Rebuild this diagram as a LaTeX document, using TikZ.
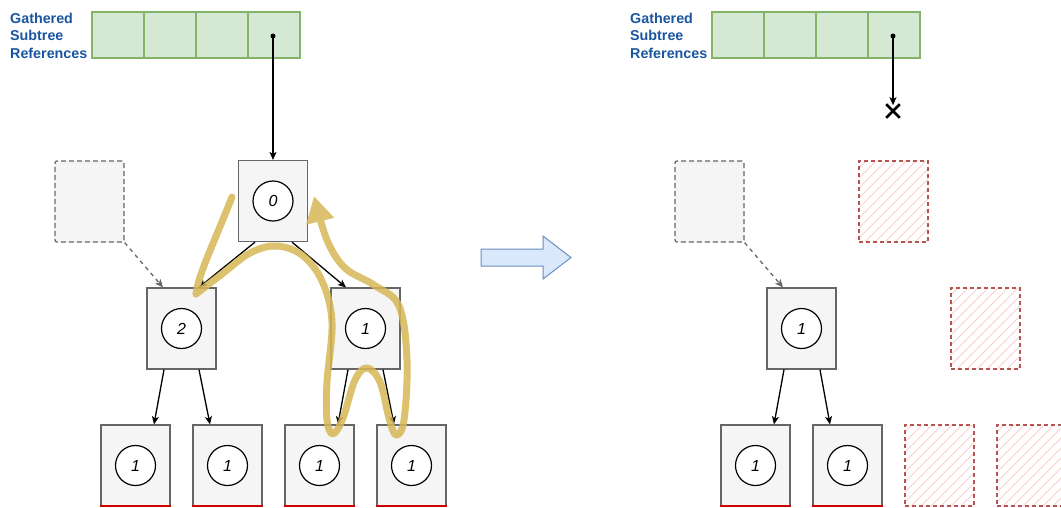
\documentclass[tikz,border=0pt]{standalone}
\usepackage{fontspec}
\setmainfont{Liberation Sans}
\usetikzlibrary{arrows.meta,shapes.misc}

\definecolor{boxfill}{HTML}{F5F5F5}
\definecolor{boxline}{HTML}{666666}
\definecolor{arrfill}{HTML}{D5E8D4}
\definecolor{arrline}{HTML}{82B366}
\definecolor{blockfill}{HTML}{DAE8FC}
\definecolor{blockline}{HTML}{6C8EBF}
\definecolor{goneline}{HTML}{B85450}
\definecolor{gonehatch}{HTML}{F8CECC}
\definecolor{trail}{HTML}{D6B656}
\definecolor{leafmark}{HTML}{CC0000}
\definecolor{refblue}{RGB}{25,85,160}

\tikzset{
    cell/.style={draw=arrline, fill=arrfill, line width=1.5pt, minimum width=52pt, minimum height=46pt, inner sep=0pt},
    refs/.style={font=\fontsize{14.3}{17.5}\selectfont\bfseries, text=refblue, align=left, inner sep=0pt},
    tnode/.style={draw=boxline, fill=boxfill, line width=1.2pt, minimum width=69pt, minimum height=81pt, inner sep=0pt},
    ghost/.style={draw=boxline, fill=boxfill, line width=1.2pt, dash pattern=on 5pt off 3pt, rounded corners=2pt, minimum width=69pt, minimum height=81pt, inner sep=0pt},
    gone/.style={draw=goneline, line width=1.2pt, dash pattern=on 4pt off 3pt, minimum width=69pt, minimum height=81pt, inner sep=0pt,
        path picture={
            \foreach \k in {-84,-74,...,70}
                \draw[gonehatch, solid, line width=1pt] ([xshift=\k pt]path picture bounding box.south west) -- ++(100pt,100pt);
        }},
    count/.style={circle, draw, fill=white, line width=1.2pt, minimum size=40pt, inner sep=0pt, font=\fontsize{16}{16}\selectfont\itshape},
    link/.style={-{Stealth[length=8pt, width=7pt, inset=2pt]}, line width=1.3pt},
    glink/.style={link, draw=boxline, dash pattern=on 4pt off 4pt},
    leafline/.style={leafmark, line width=2pt},
}

\begin{document}
\begin{tikzpicture}[x=1pt, y=-1pt]
    \useasboundingbox (0,0) rectangle (1061,507);

    \node[refs, anchor=north west] (lbl) at (10,12.5) {Gathered\\Subtree\\References};
    \node[cell] (a0) at (118,35) {};
    \node[cell] (a1) at (170,35) {};
    \node[cell] (a2) at (222,35) {};
    \node[cell] (a3) at (274,35) {};
    \fill (273,36) circle (2.5pt) coordinate (p0);

    \node[ghost] (g) at (89.5,201.5) {};
    \node[tnode] (n0) at (273,201) {};
    \node[count] (c0) at (n0) {0};
    \node[tnode] (n2) at (181.5,328.5) {};
    \node[count] (c2) at (n2) {2};
    \node[tnode] (n1) at (365.5,328.5) {};
    \node[count] (c1) at (n1) {1};

    \node[tnode] (l1) at (135.5,465.5) {};
    \node[count] at (l1) {1};
    \node[tnode] (l2) at (227.5,465.5) {};
    \node[count] at (l2) {1};
    \node[tnode] (l3) at (319.5,465.5) {};
    \node[count] at (l3) {1};
    \node[tnode] (l4) at (411.5,465.5) {};
    \node[count] at (l4) {1};
    \draw[leafline] ([yshift=1pt]l1.south west) -- ([yshift=1pt]l1.south east);
    \draw[leafline] ([yshift=1pt]l2.south west) -- ([yshift=1pt]l2.south east);
    \draw[leafline] ([yshift=1pt]l3.south west) -- ([yshift=1pt]l3.south east);
    \draw[leafline] ([yshift=1pt]l4.south west) -- ([yshift=1pt]l4.south east);

    \draw[link] (p0) -- (n0.north);
    \draw[glink] (g.south east) -- ([xshift=-18.5pt]n2.north);
    \draw[link] ([xshift=-18pt]n0.south) -- ([xshift=17.5pt]n2.north);
    \draw[link] ([xshift=19pt]n0.south) -- ([xshift=-19.5pt]n1.north);
    \draw[link] ([xshift=-17.5pt]n2.south) -- ([xshift=18.5pt]l1.north);
    \draw[link] ([xshift=17.5pt]n2.south) -- ([xshift=-17.5pt]l2.north);
    \draw[link] ([xshift=-17.5pt]n1.south) -- ([xshift=18.5pt]l3.north);
    \draw[link] ([xshift=17.5pt]n1.south) -- ([xshift=-17.5pt]l4.north);

    \begin{scope}[transparency group, opacity=0.85]
        \draw[trail, line width=7pt, line cap=round, line join=round]
            (232,197) .. controls (216,238) and (198,275) .. (196,294);
        \draw[trail, line width=7pt, line cap=round, line join=round, -{Triangle[length=26pt, width=27pt]}]
            plot[smooth, tension=0.6] coordinates {(196,294) (222,274) (250,253) (276,246) (302,255) (322,281) (332,322) (327,382) (327,420) (333,434) (343,418) (355,380) (367,368) (380,382) (389,418) (396,435) (404,420) (407,360) (399,306) (374,285) (345,268) (327,240) (314,196)};
    \end{scope}

    \draw[blockline, fill=blockfill, line width=1pt] (481,249) -- (543,249) -- (543,236) -- (571,257.5) -- (543,279) -- (543,266) -- (481,266) -- cycle;

    \node[refs, anchor=north west] (rlbl) at (630,12.5) {Gathered\\Subtree\\References};
    \node[cell] (b0) at (738,35) {};
    \node[cell] (b1) at (790,35) {};
    \node[cell] (b2) at (842,35) {};
    \node[cell] (b3) at (894,35) {};
    \fill (893,36) circle (2.5pt) coordinate (p1);
    \node[cross out, draw, line width=2.6pt, minimum size=11pt, inner sep=0pt] (cut) at (893,111) {};
    \draw[link] (p1) -- ([yshift=-1pt]cut.north);

    \node[ghost] (rg) at (709.5,201.5) {};
    \node[gone] (x0) at (893.5,201.5) {};
    \node[tnode] (m1) at (801.5,328.5) {};
    \node[count] (d1) at (m1) {1};
    \node[gone] (x1) at (985.5,328.5) {};

    \node[tnode] (k1) at (755.5,465.5) {};
    \node[count] at (k1) {1};
    \node[tnode] (k2) at (847.5,465.5) {};
    \node[count] at (k2) {1};
    \node[gone] (x2) at (939.5,465.5) {};
    \node[gone] (x3) at (1031.5,465.5) {};
    \draw[leafline] ([yshift=1pt]k1.south west) -- ([yshift=1pt]k1.south east);
    \draw[leafline] ([yshift=1pt]k2.south west) -- ([yshift=1pt]k2.south east);

    \draw[glink] (rg.south east) -- ([xshift=-18.5pt]m1.north);
    \draw[link] ([xshift=-17.5pt]m1.south) -- ([xshift=18.5pt]k1.north);
    \draw[link] ([xshift=18.5pt]m1.south) -- ([xshift=-17.5pt]k2.north);
\end{tikzpicture}
\end{document}
